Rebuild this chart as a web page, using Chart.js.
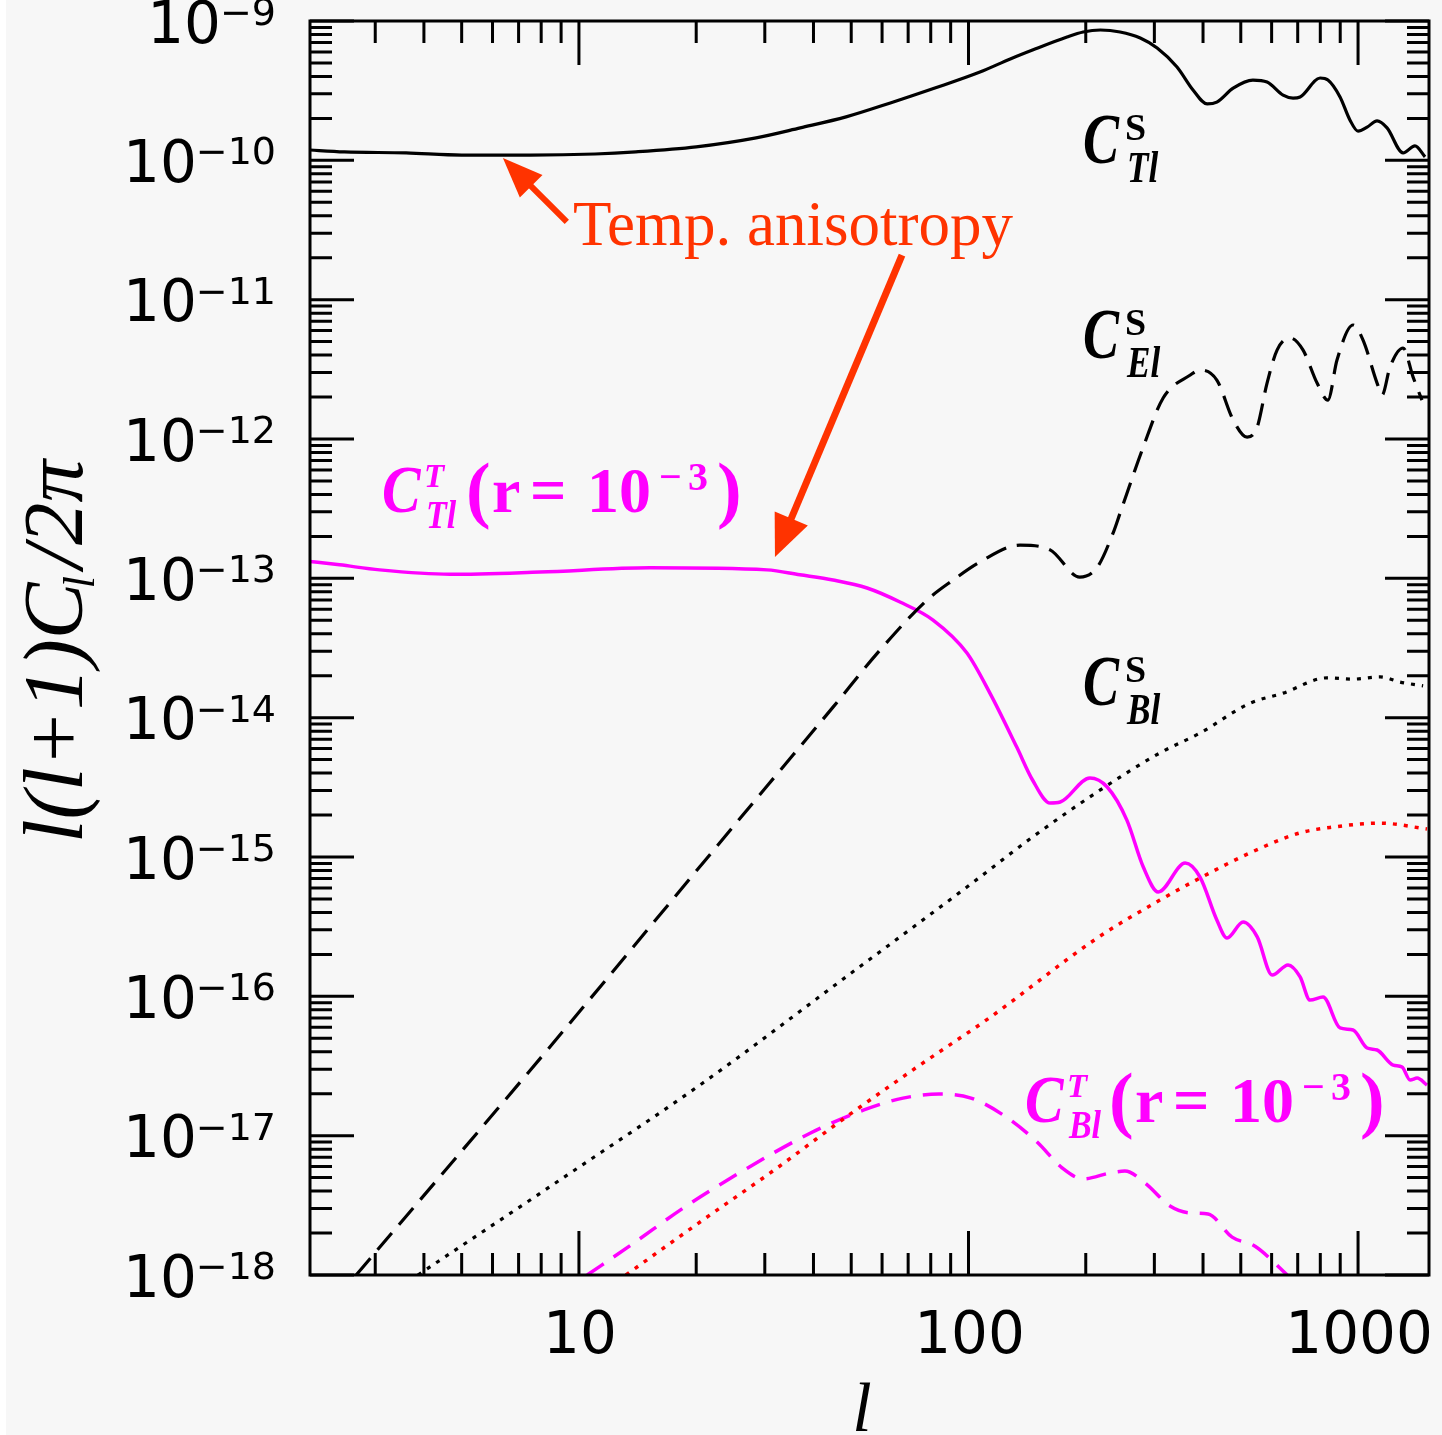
<!DOCTYPE html>
<html>
<head>
<meta charset="utf-8">
<script src="https://cdn.jsdelivr.net/npm/chart.js"></script>
<style>
html,body{margin:0;padding:0;background:#f7f7f7;}
#wrap{width:1442px;height:1435px;}
</style>
</head>
<body>
<div id="wrap"><canvas id="c" width="1442" height="1435"></canvas></div>
<script>
// ---------------- DATA ----------------
// Scalar temperature anisotropy C_Tl^S
const lTTs = [2, 2.5, 3.6, 5, 7.5, 11, 14, 20, 28.5, 37, 48.5, 63, 82, 107, 128, 146, 179, 197, 218, 245, 276, 305, 343, 377, 410, 434, 478, 537, 584, 642, 681, 710, 799, 837, 899, 953, 1000, 1055, 1119, 1187, 1305, 1400, 1486];
const cTTs = [1.19e-10, 1.15e-10, 1.13e-10, 1.09e-10, 1.09e-10, 1.11e-10, 1.15e-10, 1.25e-10, 1.45e-10, 1.71e-10, 2.05e-10, 2.58e-10, 3.30e-10, 4.30e-10, 5.34e-10, 6.19e-10, 7.68e-10, 8.34e-10, 8.62e-10, 8.34e-10, 7.55e-10, 6.40e-10, 4.68e-10, 3.20e-10, 2.54e-10, 2.62e-10, 3.30e-10, 3.77e-10, 3.65e-10, 2.94e-10, 2.80e-10, 2.85e-10, 3.90e-10, 3.77e-10, 2.85e-10, 1.95e-10, 1.62e-10, 1.73e-10, 1.92e-10, 1.71e-10, 1.13e-10, 1.27e-10, 1.06e-10];

// Scalar E-mode C_El^S
const lEEs = [2.68, 8.63, 20.4, 30.4, 44.9, 59.3, 78.3, 91.3, 107, 135.6, 162, 193, 214, 235, 245, 281, 316, 371, 393, 434, 478, 519, 551, 584, 620, 669, 722, 785, 837, 883, 971, 1030, 1119, 1153, 1208, 1305, 1384, 1459];
const cEEs = [1.0e-18, 4.70e-17, 8.47e-16, 3.23e-15, 1.19e-14, 3.06e-14, 6.99e-14, 9.72e-14, 1.31e-13, 1.73e-13, 1.60e-13, 1.02e-13, 1.20e-13, 2.11e-13, 2.94e-13, 8.77e-13, 1.97e-12, 2.88e-12, 3.13e-12, 2.65e-12, 1.37e-12, 1.03e-12, 1.22e-12, 2.52e-12, 4.36e-12, 5.31e-12, 4.36e-12, 2.52e-12, 1.90e-12, 3.69e-12, 6.58e-12, 5.13e-12, 2.52e-12, 2.07e-12, 3.29e-12, 4.50e-12, 2.79e-12, 1.90e-12];

// Scalar (lensing) B-mode C_Bl^S
const lBBs = [3.86, 8.94, 20.8, 48.5, 99.1, 146, 218, 310, 393, 528, 642, 832, 971, 1140, 1283, 1469];
const cBBs = [1.0e-18, 4.81e-18, 2.39e-17, 1.38e-16, 6.09e-16, 1.39e-15, 3.03e-15, 5.58e-15, 7.76e-15, 1.27e-14, 1.50e-14, 1.93e-14, 1.89e-14, 1.96e-14, 1.80e-14, 1.69e-14];

// Red dotted B-mode curve
const lBBr = [13.2, 20.8, 31.7, 48.5, 73.8, 113, 214, 310, 393, 528, 710, 862, 1140, 1503];
const cBBr = [1.0e-18, 2.48e-18, 5.66e-18, 1.36e-17, 3.11e-17, 6.99e-17, 2.62e-16, 4.91e-16, 7.06e-16, 1.07e-15, 1.49e-15, 1.64e-15, 1.75e-15, 1.59e-15];

// Tensor temperature C_Tl^T (r = 1e-3)
const lTTt = [2, 2.43, 3.08, 4.66, 7.94, 15.2, 30.4, 36.9, 44.9, 54.9, 66.7, 81.1, 99.1, 113.5, 133, 146, 162, 172, 205, 227, 255, 281, 307, 360, 393, 434, 461, 507, 551, 602, 661, 710, 753, 813, 899, 971, 1055, 1119, 1231, 1297, 1360, 1418, 1503];
const cTTt = [1.33e-13, 1.25e-13, 1.15e-13, 1.07e-13, 1.11e-13, 1.19e-13, 1.15e-13, 1.06e-13, 9.72e-14, 8.52e-14, 6.76e-14, 5.02e-14, 2.91e-14, 1.50e-14, 6.15e-15, 3.57e-15, 2.44e-15, 2.48e-15, 3.69e-15, 3.18e-15, 1.84e-15, 8.47e-16, 5.61e-16, 9.06e-16, 7.18e-16, 3.53e-16, 2.62e-16, 3.41e-16, 2.67e-16, 1.42e-16, 1.68e-16, 1.38e-16, 9.40e-17, 9.88e-17, 5.93e-17, 5.73e-17, 4.26e-17, 4.12e-17, 3.21e-17, 3.11e-17, 2.51e-17, 2.59e-17, 2.31e-17];

// Tensor B-mode C_Bl^T (r = 1e-3)
const lBBt = [10.5, 13.6, 18.7, 25.8, 39.2, 53.9, 67.9, 84.0, 101.5, 125, 150, 174, 197, 231, 252, 284, 329, 371, 412, 475, 544, 658];
const cBBt = [1.0e-18, 1.64e-18, 3.08e-18, 5.40e-18, 1.04e-17, 1.53e-17, 1.86e-17, 1.99e-17, 1.86e-17, 1.36e-17, 9.0e-18, 5.86e-18, 4.89e-18, 5.40e-18, 5.57e-18, 4.57e-18, 3.13e-18, 2.79e-18, 2.74e-18, 1.87e-18, 1.61e-18, 1.0e-18];

// Axis ticks / labels
const xMajorTicks = [10, 100, 1000];
const xTickLabels = ['10', '100', '1000'];
const yDecadeExps = [-18, -17, -16, -15, -14, -13, -12, -11, -10, -9];
const xTitle = 'l';
const yTitleMain = 'l(l+1)C', yTitleSub = 'l', yTitleRest = '/2\u03c0';

// Annotation anchors (data space: [l, value])
const annTempText = [9.65, 2.47e-11];
const annArrow1 = { tail: [9.31, 3.61e-11], tip: [6.38, 1.04e-10] };
const annArrow2 = { tail: [67.5, 2.09e-11], tip: [31.86, 1.42e-13] };
const lblTTs = [196.8, 9.57e-11], lblEEs = [196.8, 3.81e-12], lblBBs = [196.8, 1.23e-14];
const lblTTt = [3.12, 2.99e-13], lblBBt = [139.6, 1.25e-17];

// --------------- CHART ----------------
const W = 1442, H = 1435;
const XMIN = 2.04, XMAX = 1521, YMIN = 1e-18, YMAX = 1e-9;
const ORANGE = '#ff3300', MAG = '#ff00ff';

function pts(ls, cs) { return ls.map((l, i) => ({ x: l, y: cs[i] })); }

function txt(ctx, s, x, y, font, color, sx, align) {
  ctx.save();
  ctx.font = font; ctx.fillStyle = color;
  ctx.textAlign = align || 'left'; ctx.textBaseline = 'alphabetic';
  ctx.translate(x, y); ctx.scale(sx || 1, 1);
  ctx.fillText(s, 0, 0);
  ctx.restore();
}

function arrow(ctx, x0, y0, x1, y1, shaftW, headL, headW, color) {
  const dx = x1 - x0, dy = y1 - y0, len = Math.hypot(dx, dy);
  const ux = dx / len, uy = dy / len, nx = -uy, ny = ux;
  const bx = x1 - ux * headL, by = y1 - uy * headL;
  ctx.save();
  ctx.strokeStyle = color; ctx.fillStyle = color; ctx.lineWidth = shaftW; ctx.lineCap = 'butt';
  ctx.beginPath(); ctx.moveTo(x0, y0); ctx.lineTo(bx + ux * 2, by + uy * 2); ctx.stroke();
  ctx.beginPath();
  ctx.moveTo(x1, y1);
  ctx.lineTo(bx + nx * headW / 2, by + ny * headW / 2);
  ctx.lineTo(bx - nx * headW / 2, by - ny * headW / 2);
  ctx.closePath(); ctx.fill();
  ctx.restore();
}

function blackLabel(ctx, p, sub) {
  const f = '"Liberation Serif"';
  txt(ctx, 'C', p[0], p[1], 'bold italic 72px ' + f, '#000', 0.75);
  txt(ctx, 'S', p[0] + 42, p[1] - 23, 'bold 38px ' + f, '#000');
  txt(ctx, sub, p[0] + 44, p[1] + 19, 'bold italic 44px ' + f, '#000', 0.8);
}

function magLabel(ctx, p, sub) {
  const f = '"Liberation Serif"';
  const x = p[0], y = p[1];
  txt(ctx, 'C', x, y, 'bold italic 68px ' + f, MAG, 0.85);
  txt(ctx, 'T', x + 42, y - 25, 'bold italic 33px ' + f, MAG);
  txt(ctx, sub, x + 44, y + 16, 'bold italic 40px ' + f, MAG, 0.85);
  txt(ctx, '(', x + 84, y + 2, 'bold 74px ' + f, MAG);
  txt(ctx, 'r', x + 110, y, 'bold 64px ' + f, MAG);
  txt(ctx, '=', x + 148, y, 'bold 64px ' + f, MAG);
  txt(ctx, '10', x + 205, y, 'bold 64px ' + f, MAG);
  txt(ctx, '\u2212', x + 277, y - 22, 'bold 40px ' + f, MAG);
  txt(ctx, '3', x + 306, y - 22, 'bold 40px ' + f, MAG);
  txt(ctx, ')', x + 335, y + 2, 'bold 74px ' + f, MAG);
}

const decor = {
  id: 'decor',
  beforeDraw(chart) {
    const ctx = chart.ctx;
    ctx.save();
    ctx.fillStyle = '#ffffff'; ctx.fillRect(0, 0, W, H);
    ctx.fillStyle = '#f7f7f7'; ctx.fillRect(6, 0, W - 6, H);
    ctx.restore();
  },
  afterDraw(chart) {
    const ctx = chart.ctx, a = chart.chartArea, xs = chart.scales.x, ys = chart.scales.y;
    const P = (d) => [xs.getPixelForValue(d[0]), ys.getPixelForValue(d[1])];
    ctx.save();
    // frame
    ctx.strokeStyle = '#000'; ctx.lineWidth = 3; ctx.lineCap = 'butt';
    ctx.strokeRect(a.left, a.top, a.right - a.left, a.bottom - a.top);
    // ticks
    ctx.beginPath();
    for (let e = 0; e <= 3; e++) {
      for (let k = 1; k <= 9; k++) {
        const v = k * Math.pow(10, e);
        if (v < XMIN || v > XMAX) continue;
        const px = xs.getPixelForValue(v);
        const len = k === 1 ? 44 : 22;
        ctx.moveTo(px, a.bottom); ctx.lineTo(px, a.bottom - len);
        ctx.moveTo(px, a.top); ctx.lineTo(px, a.top + len);
      }
    }
    for (let e = -18; e <= -9; e++) {
      for (let k = 1; k <= 9; k++) {
        if (e === -9 && k > 1) continue;
        const v = k * Math.pow(10, e);
        const py = ys.getPixelForValue(v);
        const len = k === 1 ? 44 : 22;
        ctx.moveTo(a.left, py); ctx.lineTo(a.left + len, py);
        ctx.moveTo(a.right, py); ctx.lineTo(a.right - len, py);
      }
    }
    ctx.stroke();

    // y tick labels
    const sans = '"DejaVu Sans"';
    yDecadeExps.forEach(e => {
      const py = ys.getPixelForValue(Math.pow(10, e));
      ctx.font = '38px ' + sans;
      const sup = '\u2212' + Math.abs(e);
      const sw = ctx.measureText(sup).width;
      txt(ctx, sup, 276, py + 4, '38px ' + sans, '#000', 1, 'right');
      txt(ctx, '10', 276 - sw + 1, py + 21.5, '58px ' + sans, '#000', 1, 'right');
    });
    // x tick labels
    xMajorTicks.forEach((v, i) => {
      const px = xs.getPixelForValue(v);
      txt(ctx, xTickLabels[i], px + 1, 1353, '58px ' + sans, '#000', 1, 'center');
    });

    // axis titles
    const serif = '"Liberation Serif"';
    txt(ctx, xTitle, 862, 1431, 'italic 70px ' + serif, '#000', 1, 'center');
    ctx.save();
    ctx.translate(82, 843);
    ctx.rotate(-Math.PI / 2);
    ctx.font = 'italic 85px ' + serif;
    const mw = ctx.measureText(yTitleMain).width;
    txt(ctx, yTitleMain, 0, 0, 'italic 85px ' + serif, '#000');
    txt(ctx, yTitleSub, mw - 6, 12, 'italic 45px ' + serif, '#000');
    txt(ctx, yTitleRest, mw + 14, 0, 'italic 85px ' + serif, '#000');
    ctx.restore();

    // series labels
    blackLabel(ctx, P(lblTTs), 'Tl');
    blackLabel(ctx, P(lblEEs), 'El');
    blackLabel(ctx, P(lblBBs), 'Bl');
    magLabel(ctx, P(lblTTt), 'Tl');
    magLabel(ctx, P(lblBBt), 'Bl');

    // annotation
    const tp = P(annTempText);
    txt(ctx, 'Temp. anisotropy', tp[0], tp[1], '63px ' + serif, ORANGE);
    let t0 = P(annArrow1.tail), t1 = P(annArrow1.tip);
    arrow(ctx, t0[0], t0[1], t1[0], t1[1], 6, 40, 32, ORANGE);
    t0 = P(annArrow2.tail); t1 = P(annArrow2.tip);
    arrow(ctx, t0[0], t0[1], t1[0], t1[1], 7, 42, 36, ORANGE);
    ctx.restore();
  }
};

const common = { pointRadius: 0, fill: false, cubicInterpolationMode: 'monotone', borderCapStyle: 'butt', borderJoinStyle: 'round' };

new Chart(document.getElementById('c'), {
  type: 'line',
  data: {
    datasets: [
      Object.assign({ label: 'C_Tl^S', data: pts(lTTs, cTTs), borderColor: '#000', borderWidth: 3.2 }, common),
      Object.assign({ label: 'C_El^S', data: pts(lEEs, cEEs), borderColor: '#000', borderWidth: 3.2, borderDash: [22, 11] }, common),
      Object.assign({ label: 'C_Bl^S', data: pts(lBBs, cBBs), borderColor: '#000', borderWidth: 3.2, borderDash: [4, 7] }, common),
      Object.assign({ label: 'B red', data: pts(lBBr, cBBr), borderColor: '#ff0000', borderWidth: 3.5, borderDash: [4, 7] }, common),
      Object.assign({ label: 'C_Bl^T(r=1e-3)', data: pts(lBBt, cBBt), borderColor: MAG, borderWidth: 3.5, borderDash: [20, 12] }, common),
      Object.assign({ label: 'C_Tl^T(r=1e-3)', data: pts(lTTt, cTTt), borderColor: MAG, borderWidth: 3.5 }, common)
    ]
  },
  options: {
    responsive: false,
    animation: false,
    devicePixelRatio: 1,
    layout: { padding: { left: 310, right: W - 1429, top: 21, bottom: H - 1275 } },
    plugins: { legend: { display: false }, tooltip: { enabled: false } },
    scales: {
      x: { type: 'logarithmic', min: XMIN, max: XMAX, display: false },
      y: { type: 'logarithmic', min: YMIN, max: YMAX, display: false }
    }
  },
  plugins: [decor]
});
</script>
</body>
</html>
